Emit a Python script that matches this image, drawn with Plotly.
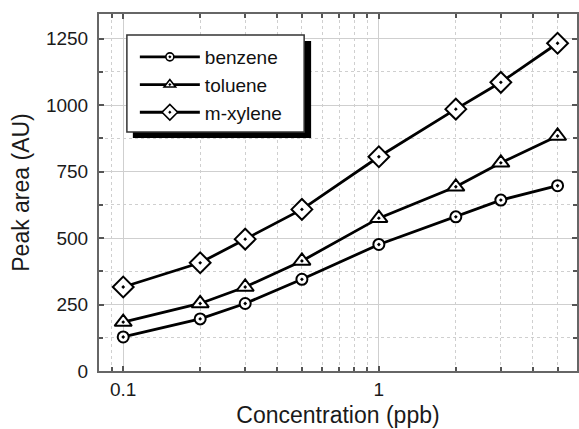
import plotly.graph_objects as go

conc = [0.1, 0.2, 0.3, 0.5, 1, 2, 3, 5]
benzene = [128, 196, 254, 345, 476, 580, 643, 697]
toluene = [184, 254, 316, 414, 575, 693, 783, 884]
mxylene = [316, 407, 496, 608, 806, 985, 1086, 1233]

series = [
    ("benzene", benzene, "circle-dot", 11, 8),
    ("toluene", toluene, "triangle-up-dot", 15, 10),
    ("m-xylene", mxylene, "diamond-dot", 16, 12),
]

FONT = "Liberation Sans, Arial, sans-serif"
L, R, T, B = 99, 0, 14, 58
W, H = 579, 429
PW, PH = W - L - R, H - T - B


def px2paper(x, y):
    return (x - L) / PW, (H - B - y) / PH


fig = go.Figure()
for name, vals, sym, size, lsize in series:
    fig.add_trace(go.Scatter(
        x=conc, y=vals, name=name, mode="lines+markers", showlegend=False,
        line=dict(color="black", width=2.8),
        marker=dict(symbol=sym, size=size, color="white",
                    line=dict(width=2, color="black")),
    ))
    # legend entry with smaller marker
    fig.add_trace(go.Scatter(
        x=[None], y=[None], name=name, mode="lines+markers", showlegend=True,
        line=dict(color="black", width=2.8),
        marker=dict(symbol=sym, size=lsize, color="white",
                    line=dict(width=1.6, color="black")),
    ))

axis_common = dict(
    showline=True, linecolor="#666666", linewidth=2, mirror="ticks",
    ticks="inside", ticklen=5, tickcolor="#555555", tickwidth=1.5,
    gridcolor="#cfcfcf", gridwidth=1, zeroline=False,
    tickfont=dict(family=FONT, size=19, color="#1a1a1a"),
    title_font=dict(family=FONT, size=23, color="#1a1a1a"),
)

fig.update_xaxes(
    type="log", range=[-1.0947, 0.775], dtick=1,
    tickvals=[0.1, 1], ticktext=["0.1", "1"],
    title_text="Concentration (ppb)", title_standoff=8,
    minor=dict(dtick="D1", showgrid=True, griddash="dot", gridcolor="#cfcfcf",
               ticks="inside", ticklen=4, tickcolor="#555555"),
    **axis_common,
)
fig.update_yaxes(
    range=[0, 1343], tick0=0, dtick=250,
    title_text="Peak area (AU)", title_standoff=10,
    ticklabelstandoff=5,
    minor=dict(dtick=125, showgrid=True, griddash="dot", gridcolor="#cfcfcf",
               ticks="inside", ticklen=4, tickcolor="#555555"),
    **axis_common,
)

# legend box with drop shadow
sx0, sy0 = px2paper(133, 138)
sx1, sy1 = px2paper(312, 41)
fig.add_shape(type="rect", xref="paper", yref="paper",
              x0=sx0, y0=sy0, x1=sx1, y1=sy1,
              fillcolor="black", line=dict(width=0), layer="above")
bx0, by0 = px2paper(127, 132)
bx1, by1 = px2paper(305, 35)
fig.add_shape(type="rect", xref="paper", yref="paper",
              x0=bx0, y0=by0, x1=bx1, y1=by1,
              fillcolor="white", line=dict(width=1.5, color="#333333"), layer="above")

lx, ly = px2paper(135, 38)
fig.update_layout(
    width=W, height=H,
    margin=dict(l=L, r=R, t=T, b=B),
    plot_bgcolor="white", paper_bgcolor="white",
    showlegend=True,
    legend=dict(
        x=lx, y=ly, xanchor="left", yanchor="top",
        bgcolor="rgba(0,0,0,0)", borderwidth=0,
        font=dict(family=FONT, size=19, color="#111111"),
        itemwidth=60, tracegroupgap=0,
    ),
)

fig.write_html("out.html")
